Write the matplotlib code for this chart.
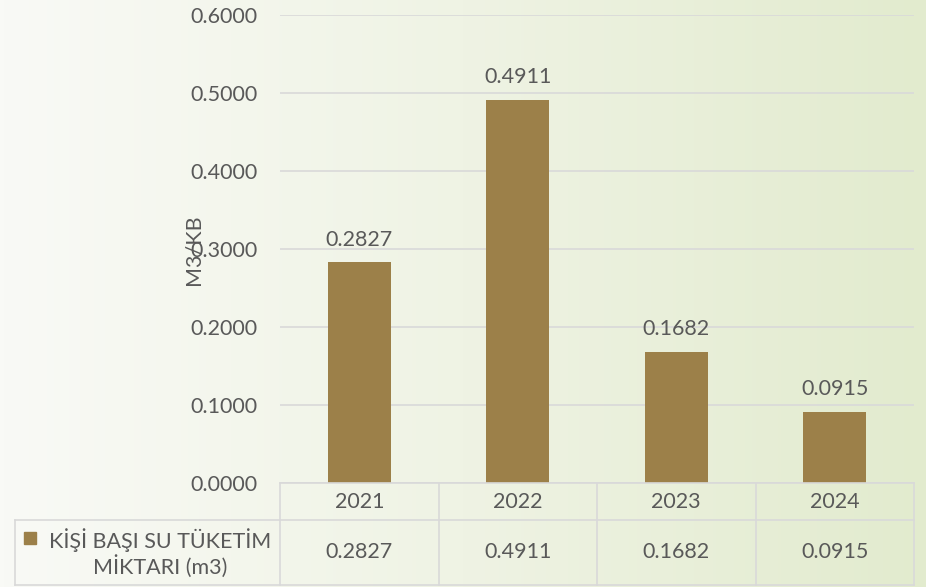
import numpy as np
import matplotlib
matplotlib.use("Agg")
import matplotlib.pyplot as plt
from matplotlib.lines import Line2D
from matplotlib.patches import Rectangle

years = ["2021", "2022", "2023", "2024"]
values = [0.2827, 0.4911, 0.1682, 0.0915]
series_name = "KİŞİ BAŞI SU TÜKETİM\nMİKTARI (m3)"
y_label = "M3/KB"
y_ticks = [0.0, 0.1, 0.2, 0.3, 0.4, 0.5, 0.6]

W, H = 926, 587
bar_color = "#9C8049"
text_color = "#595959"
grid_color = "#D9D9D9"
fs = 15.5
plt.rcParams["font.family"] = ["Lato", "DejaVu Sans"]

fig = plt.figure(figsize=(W / 100, H / 100), dpi=100)

# gradient background
bg = fig.add_axes([0, 0, 1, 1], zorder=-10)
grad = np.linspace(0, 1, 256)[None, :]
cmap = matplotlib.colors.LinearSegmentedColormap.from_list("bg", ["#F9FAF6", "#EFF3E4", "#E2EBCE"])
bg.imshow(grad, aspect="auto", cmap=cmap, extent=[0, 1, 0, 1])
bg.axis("off")

def fx(px):
    return px / W

def fy(py):
    return 1 - py / H

left, right, top, bottom = 280, 914, 15, 483
ax = fig.add_axes([fx(left), fy(bottom), fx(right - left), fy(top) - fy(bottom)])
ax.patch.set_alpha(0)
x = np.arange(len(years))
bars = ax.bar(x, values, width=0.40, color=bar_color, zorder=3)
ax.set_xlim(-0.5, len(years) - 0.5)
ax.set_ylim(0, 0.6)
ax.set_yticks(y_ticks)
ax.set_yticklabels(["%.4f" % t for t in y_ticks])
ax.tick_params(axis="y", length=0, pad=16, labelsize=fs, labelcolor=text_color)
ax.set_xticks([])
ax.grid(axis="y", color=grid_color, linewidth=1.2, zorder=0)
for s in ax.spines.values():
    s.set_visible(False)
for b, v in zip(bars, values):
    ax.annotate("%.4f" % v, (b.get_x() + b.get_width() / 2, v), xytext=(0, 9),
                textcoords="offset points", ha="center", va="bottom",
                fontsize=fs, color=text_color)

fig.text(fx(193), fy(250), y_label, rotation=90, ha="center", va="center",
         fontsize=fs, color=text_color)

# data table
row1, row2, row3 = 483, 520, 585
col_w = (right - left) / len(years)
lw = 1.2

def hline(y, x0, x1):
    fig.add_artist(Line2D([fx(x0), fx(x1)], [fy(y), fy(y)], color=grid_color, lw=lw))

def vline(xp, y0, y1):
    fig.add_artist(Line2D([fx(xp), fx(xp)], [fy(y0), fy(y1)], color=grid_color, lw=lw))

hline(row1, left, right)
hline(row2, 15, right)
hline(row3, 15, right)
vline(15, row2, row3)
for i in range(len(years) + 1):
    vline(left + i * col_w, row1, row3)
for i, (yr, v) in enumerate(zip(years, values)):
    cx = left + (i + 0.5) * col_w
    fig.text(fx(cx), fy((row1 + row2) / 2 + 1), yr, ha="center", va="center",
             fontsize=fs, color=text_color)
    fig.text(fx(cx), fy((row2 + row3) / 2), "%.4f" % v, ha="center", va="center",
             fontsize=fs, color=text_color)

fig.add_artist(Rectangle((fx(24), fy(544)), fx(12), fy(532) - fy(544), color=bar_color,
                         transform=fig.transFigure))
fig.text(fx(160), fy(553), series_name, ha="center", va="center",
         fontsize=fs, color=text_color, linespacing=1.15)

fig.savefig("out.png", dpi=100)
